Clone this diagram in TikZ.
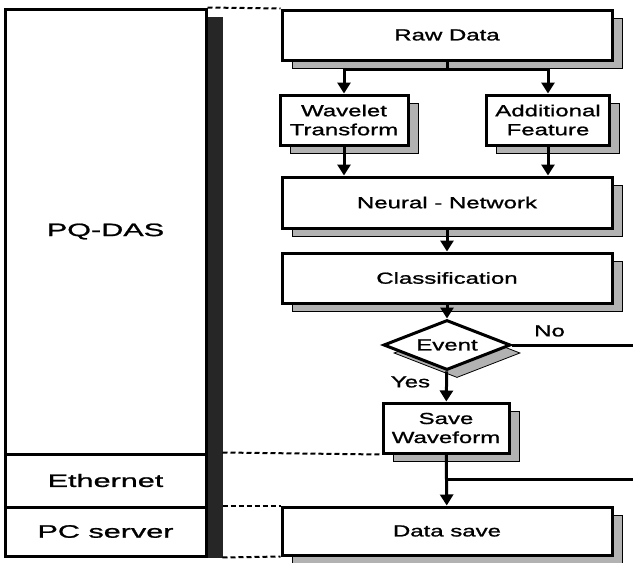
\documentclass[tikz,border=0pt]{standalone}
\usepackage{fontspec}
\newfontfamily\boxfont[FakeStretch=1.5,FakeBold=1.2]{Liberation Sans}
\newfontfamily\sidefont[FakeStretch=1.7,FakeBold=1.2]{Liberation Sans}
\usetikzlibrary{arrows.meta}
\usetikzlibrary{shapes.geometric}
\usetikzlibrary{shadows}

\begin{document}
\begin{tikzpicture}[
        x=1pt, y=-1pt,
        >={Triangle[width=13pt,length=11pt]},
        flow/.style={line width=3pt},
        guide/.style={line width=2pt, dash pattern=on 5pt off 3pt},
        boxshadow/.style={drop shadow={shadow xshift=10pt, shadow yshift=-8pt,
            fill=gray!60, draw=black, line width=0.8pt, opacity=1}},
        block/.style={draw, line width=3pt, fill=white, inner sep=0pt, align=center,
            font=\boxfont\fontsize{16}{19}\selectfont, boxshadow},
        decision/.style={block, diamond, aspect=2.54},
        layer/.style={draw, line width=3pt, fill=white, inner sep=0pt, minimum width=201pt,
            font=\sidefont\fontsize{18}{21}\selectfont},
        tag/.style={inner sep=1pt, font=\boxfont\fontsize{16}{19}\selectfont}
    ]
        \useasboundingbox (0,0) rectangle (633,563);

        % system layers on the left
        \node[layer, minimum height=445pt] (pqdas) at (105.5,231.5) {PQ-DAS};
        \node[layer, minimum height=53pt] (ethernet) at (105.5,480.5) {Ethernet};
        \node[layer, minimum height=49pt] (pcserver) at (105.5,531.5) {PC server};
        \fill[black!85] ([shift={(0,9)}]pqdas.north east) rectangle ([xshift=15pt]pcserver.south east);

        % processing chain
        \node[block, minimum width=330pt, minimum height=50pt] (raw) at (447,35) {Raw Data};
        \node[block, minimum width=128pt, minimum height=50pt] (wavelet) at (344,120) {Wavelet\\Transform};
        \node[block, minimum width=123pt, minimum height=50pt] (feature) at (548,120) {Additional\\Feature};
        \node[block, minimum width=330pt, minimum height=51pt] (neural) at (447,202.5) {Neural - Network};
        \node[block, minimum width=330pt, minimum height=50pt] (classif) at (447,278) {Classification};
        \node[decision, minimum width=127pt, minimum height=50pt] (event) at (447,345) {Event};
        \node[block, minimum width=126pt, minimum height=50pt] (save) at (446,428) {Save\\Waveform};
        \node[block, minimum width=330pt, minimum height=48pt] (datasave) at (447,531) {Data save};

        \coordinate (split) at (447,69);
        \coordinate (noend) at (633,345);
        \coordinate (merge) at (446,479);
        \coordinate (inright) at (633,479);

        \draw[flow] (raw) -- (split);
        \draw[flow, ->] (split) -| (wavelet);
        \draw[flow, ->] (split) -| (feature);
        \draw[flow, ->] (wavelet) -- (wavelet |- neural.north);
        \draw[flow, ->] (feature) -- (feature |- neural.north);
        \draw[flow, ->] (neural) -- (classif);
        \draw[flow, ->] (classif) -- (event);
        \draw[flow] (event.east) -- (noend) node[tag, pos=0.31, above=6pt] (no) {No};
        \draw[flow, ->] (event) -- (save) node[tag, pos=0.35, left=14pt] (yes) {Yes};
        \draw[flow, ->] (save) -- (datasave);
        \draw[flow] (inright) -- (merge);

        % layer boundaries
        \draw[guide] (pqdas.north east) -- (raw.north west);
        \draw[guide] ([xshift=15pt]ethernet.north east) -- (save.south west);
        \draw[guide] ([xshift=15pt]pcserver.north east) -- (datasave.north west);
        \draw[guide] ([xshift=15pt]pcserver.south east) -- (datasave.south west);

    \end{tikzpicture}
\end{document}
